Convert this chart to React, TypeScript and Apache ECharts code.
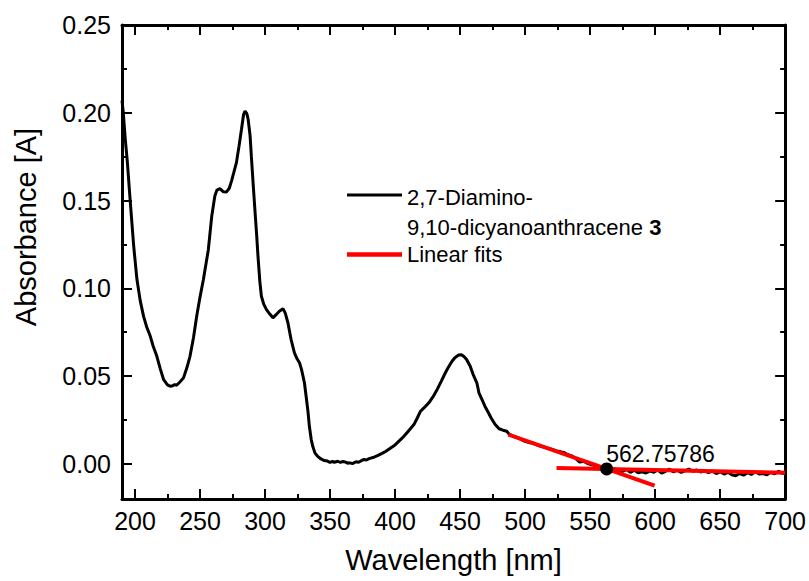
import React, { useEffect, useRef } from "react";
import * as echarts from "echarts";

// Absorbance spectrum (wavelength nm, absorbance A)
const spectrumX: number[] = [
  190, 191, 192.5, 194, 196.4, 199, 201.5, 204, 206.6, 209, 211.7, 214, 216.8, 219.5, 222, 225, 227, 229, 230.5, 232,
  234, 237.3, 240, 242.3, 245, 247.4, 250, 252.6, 256.4, 259, 261.4, 263, 265.3, 268, 270.4, 272.5, 274.2, 276, 278, 280,
  281.9, 283.5, 284.6, 286, 287, 288.5, 289.5, 291, 292, 293.5, 294.6, 296, 297.2, 299, 301, 303.5, 306.1, 308.5, 311, 313.8,
  315.5, 317.6, 320, 322.6, 324.5, 326.5, 328, 330.3, 331.6, 333, 334.1, 335.5, 336.7, 338.5, 340.5, 343, 345.6, 348, 350, 352,
  353.3, 356, 358, 360, 362, 363.5, 365, 367.3, 370, 372, 374, 376.2, 378, 380, 383, 386.5, 390, 393, 396.6, 400,
  403, 406.8, 410, 414.5, 417, 419.6, 423, 426, 429, 432.4, 435.5, 438.7, 441, 443.8, 446, 448.9, 451, 453, 455, 457.8,
  460, 462.9, 464.5, 466.8, 469, 471.8, 474, 477, 480, 483, 485.9, 488, 491, 494, 497, 500, 503, 506, 509, 512,
  515, 518, 521, 524, 527, 530, 533, 536, 539, 542, 545, 548, 551, 554, 557, 560, 563, 566, 569, 572,
  575, 578, 581, 584, 587, 590, 593, 596, 599, 602, 605, 608, 611, 614, 617, 620, 623, 626, 629, 632,
  635, 638, 641, 644, 647, 650, 653, 656, 659, 662, 665, 668, 671, 674, 677, 680, 683, 686, 689, 692,
  695, 698, 700,
];
const spectrumY: number[] = [
  0.207, 0.2, 0.185, 0.173, 0.149, 0.124, 0.105, 0.093, 0.084, 0.078, 0.0728, 0.067, 0.0613, 0.054, 0.048, 0.045, 0.0442, 0.0445, 0.0452, 0.0448,
  0.0462, 0.049, 0.055, 0.0613, 0.072, 0.084, 0.095, 0.105, 0.122, 0.141, 0.1526, 0.156, 0.1568, 0.155, 0.1549, 0.157, 0.1611, 0.166, 0.1716, 0.181,
  0.1906, 0.199, 0.201, 0.1995, 0.1963, 0.187, 0.175, 0.158, 0.147, 0.131, 0.118, 0.104, 0.0955, 0.091, 0.088, 0.0855, 0.0832, 0.085, 0.087, 0.0884,
  0.086, 0.0804, 0.071, 0.0633, 0.06, 0.0576, 0.054, 0.0462, 0.0385, 0.03, 0.0214, 0.014, 0.01, 0.006, 0.0043, 0.0028, 0.0019, 0.0016, 0.0008, 0.0014,
  0.0009, 0.0015, 0.0008, 0.0014, 0.001, 0.0004, 0.0006, 0.0002, 0.0012, 0.0009, 0.0018, 0.0025, 0.0022, 0.003, 0.0036, 0.0047, 0.006, 0.0072, 0.0091, 0.0108,
  0.013, 0.0157, 0.0185, 0.0224, 0.026, 0.03, 0.0325, 0.0348, 0.038, 0.0424, 0.047, 0.0519, 0.055, 0.0585, 0.0605, 0.062, 0.0622, 0.0612, 0.0595, 0.0556,
  0.051, 0.0462, 0.0405, 0.0367, 0.033, 0.0291, 0.026, 0.0224, 0.02, 0.0192, 0.0186, 0.0168, 0.0158, 0.015, 0.014, 0.0128, 0.0122, 0.0118, 0.0108, 0.01,
  0.0095, 0.0088, 0.0082, 0.0074, 0.007, 0.0064, 0.0052, 0.0045, 0.003, 0.001, 0.0015, 0.0003, -0.0005, -0.001, -0.0015, -0.002, -0.0028, -0.003, -0.0028, -0.0038,
  -0.0042, -0.0032, -0.0048, -0.0036, -0.005, -0.0045, -0.0052, -0.004, -0.0048, -0.0035, -0.0052, -0.0042, -0.003, -0.0045, -0.0036, -0.0048, -0.004, -0.003, -0.0042, -0.0035,
  -0.0046, -0.0038, -0.005, -0.004, -0.0055, -0.0045, -0.0058, -0.0048, -0.0062, -0.0068, -0.0055, -0.0064, -0.005, -0.006, -0.0045, -0.0058, -0.0055, -0.0062, -0.0048, -0.0056,
  -0.0042, -0.0055, -0.005,
];

// Linear fits (endpoints)
const fit1X: number[] = [487.2, 599.6];
const fit1Y: number[] = [0.0167, -0.0124];
const fit2X: number[] = [524.2, 700];
const fit2Y: number[] = [-0.0023, -0.005];

// Intersection point
const crossX = 562.75786;
const crossY = -0.00285;
const crossLabel = "562.75786";

// Axis ticks
const xMajor: number[] = [200, 250, 300, 350, 400, 450, 500, 550, 600, 650, 700];
const xMinor: number[] = [225, 275, 325, 375, 425, 475, 525, 575, 625, 675];
const yMajor: number[] = [0, 0.05, 0.1, 0.15, 0.2, 0.25];
const yMinor: number[] = [0.025, 0.075, 0.125, 0.175, 0.225];
const yLabels: string[] = ["0.00", "0.05", "0.10", "0.15", "0.20", "0.25"];

const legendLine1 = "2,7-Diamino-";
const legendLine2 = "9,10-dicyanoanthracene {b|3}";
const legendLine3 = "Linear fits";
const xName = "Wavelength [nm]";
const yName = "Absorbance [A]";

const FONT = "'Liberation Sans', Arial, sans-serif";

export default function App() {
  const ref = useRef<HTMLDivElement>(null);
  useEffect(() => {
    if (!ref.current) return;
    const chart = echarts.init(ref.current, undefined, { renderer: "svg" });
    const axisLine = { show: true, onZero: false, lineStyle: { color: "#000", width: 3 } };
    const noLine = { show: false, onZero: false };
    const baseX = { type: "value" as const, min: 190, max: 700, splitLine: { show: false } };
    const baseY = { type: "value" as const, min: -0.02, max: 0.25, splitLine: { show: false } };
    const tick = (vals: number[], len: number) => ({
      show: true,
      inside: true,
      length: len,
      customValues: vals,
      lineStyle: { color: "#000", width: 2 },
    });
    const noLabel = { show: false };
    const spectrum = spectrumX.map((x, i) => [x, spectrumY[i]]);
    const fit1 = fit1X.map((x, i) => [x, fit1Y[i]]);
    const fit2 = fit2X.map((x, i) => [x, fit2Y[i]]);

    chart.setOption({
      animation: false,
      backgroundColor: "#fff",
      grid: { left: 122, right: 23, top: 25, bottom: 82, containLabel: false },
      xAxis: [
        {
          ...baseX,
          position: "bottom",
          axisLine,
          axisTick: tick(xMajor, 10),
          axisLabel: {
            show: true,
            customValues: xMajor,
            fontSize: 25,
            fontFamily: FONT,
            color: "#000",
            margin: 9,
          },
          name: xName,
          nameLocation: "middle",
          nameGap: 46,
          nameTextStyle: { fontSize: 29, fontFamily: FONT, color: "#000" },
        },
        { ...baseX, position: "bottom", axisLine: noLine, axisTick: tick(xMinor, 5), axisLabel: noLabel },
        { ...baseX, position: "top", axisLine, axisTick: tick(xMajor, 10), axisLabel: noLabel },
        { ...baseX, position: "top", axisLine: noLine, axisTick: tick(xMinor, 5), axisLabel: noLabel },
      ],
      yAxis: [
        {
          ...baseY,
          position: "left",
          axisLine,
          axisTick: tick(yMajor, 10),
          axisLabel: {
            show: true,
            customValues: yMajor,
            formatter: (v: number) => {
              const idx = yMajor.findIndex((m) => Math.abs(m - v) < 1e-9);
              return idx >= 0 ? yLabels[idx] : "";
            },
            fontSize: 25,
            fontFamily: FONT,
            color: "#000",
            margin: 11,
          },
        },
        { ...baseY, position: "left", axisLine: noLine, axisTick: tick(yMinor, 5), axisLabel: noLabel },
        { ...baseY, position: "right", axisLine, axisTick: tick(yMajor, 10), axisLabel: noLabel },
        { ...baseY, position: "right", axisLine: noLine, axisTick: tick(yMinor, 5), axisLabel: noLabel },
      ],
      series: [
        {
          name: "spectrum",
          type: "line",
          data: spectrum,
          showSymbol: false,
          symbol: "none",
          lineStyle: { color: "#000", width: 3 },
          z: 2,
        },
        {
          name: "fit1",
          type: "line",
          data: fit1,
          showSymbol: false,
          symbol: "none",
          lineStyle: { color: "#ff0000", width: 4 },
          z: 3,
        },
        {
          name: "fit2",
          type: "line",
          data: fit2,
          showSymbol: false,
          symbol: "none",
          lineStyle: { color: "#ff0000", width: 4 },
          z: 3,
        },
        {
          name: "intersection",
          type: "scatter",
          data: [[crossX, crossY]],
          symbol: "circle",
          symbolSize: 13,
          itemStyle: { color: "#000", opacity: 1 },
          z: 4,
          label: {
            show: true,
            formatter: crossLabel,
            position: [6, -8],
            align: "left",
            verticalAlign: "middle",
            fontSize: 23,
            fontFamily: FONT,
            color: "#000",
          },
        },
      ],
      graphic: [
        {
          type: "text",
          x: 26,
          y: 227,
          rotation: Math.PI / 2,
          style: {
            text: yName,
            fontSize: 29,
            fontFamily: FONT,
            fill: "#000",
            textAlign: "center",
            textVerticalAlign: "middle",
          },
        },
        { type: "line", shape: { x1: 347, y1: 195, x2: 402, y2: 195 }, style: { stroke: "#000", lineWidth: 3 } },
        { type: "line", shape: { x1: 347, y1: 254.5, x2: 402, y2: 254.5 }, style: { stroke: "#ff0000", lineWidth: 4.5 } },
        {
          type: "text",
          x: 407,
          y: 197,
          style: { text: legendLine1, fontSize: 22, fontFamily: FONT, fill: "#000", textVerticalAlign: "middle" },
        },
        {
          type: "text",
          x: 407,
          y: 227.5,
          style: {
            text: legendLine2,
            fontSize: 22,
            fontFamily: FONT,
            fill: "#000",
            textVerticalAlign: "middle",
            rich: { b: { fontWeight: "bold", fontSize: 22, fontFamily: FONT, fill: "#000" } },
          },
        },
        {
          type: "text",
          x: 407,
          y: 254.5,
          style: { text: legendLine3, fontSize: 22, fontFamily: FONT, fill: "#000", textVerticalAlign: "middle" },
        },
      ],
    });
    return () => chart.dispose();
  }, []);
  return <div ref={ref} style={{ position: "absolute", left: 0, top: 0, width: 809, height: 581 }} />;
}
